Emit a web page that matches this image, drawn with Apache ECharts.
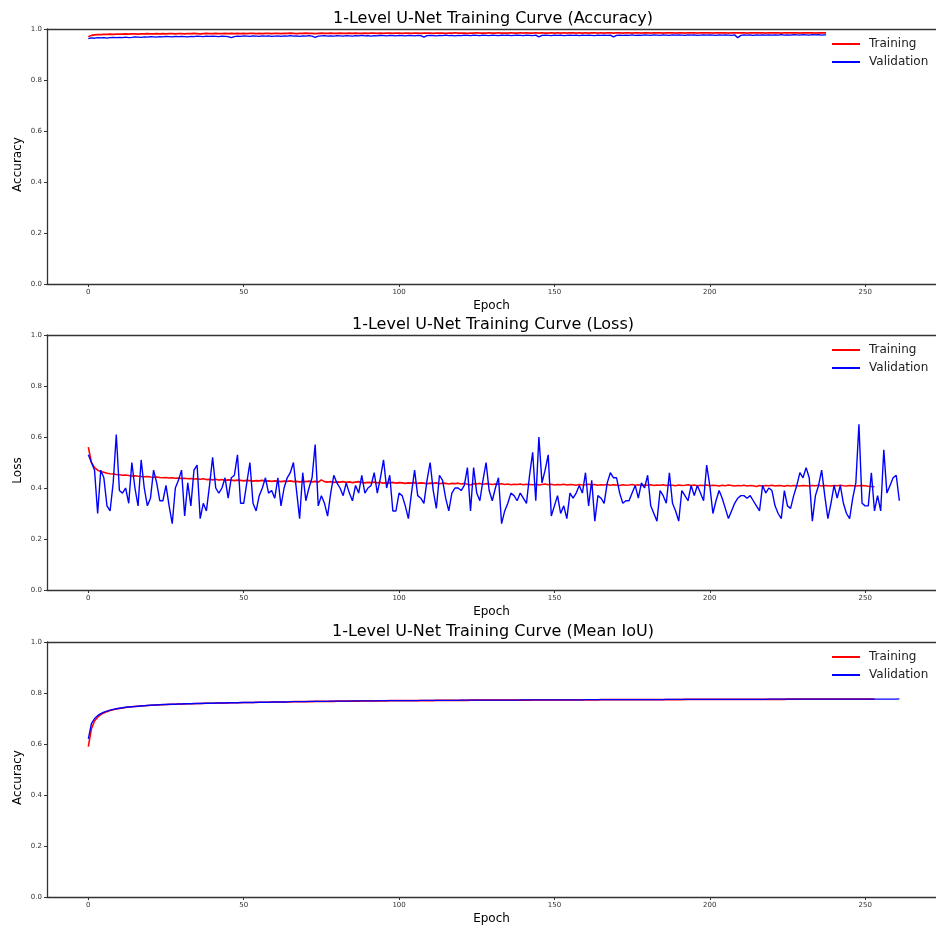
<!DOCTYPE html>
<html>
<head>
<meta charset="utf-8">
<script src="https://cdn.jsdelivr.net/npm/echarts@6/dist/echarts.min.js"></script>
<style>html,body{margin:0;padding:0;background:#fff}#c{width:936px;height:931px}</style>
</head>
<body>
<div id="c"></div>
<script>
const titles = ['1-Level U-Net Training Curve (Accuracy)', '1-Level U-Net Training Curve (Loss)', '1-Level U-Net Training Curve (Mean IoU)'];
const yNames = ['Accuracy', 'Loss', 'Accuracy'];
const epochTicks = [0, 50, 100, 150, 200, 250];
const seriesNames = ['Training', 'Validation'];

const trainAcc = [
0.970,0.975,0.977,0.978,0.978,0.979,0.979,0.980,0.979,0.980,
0.980,0.980,0.981,0.980,0.981,0.981,0.980,0.981,0.981,0.982,
0.981,0.981,0.982,0.981,0.982,0.981,0.982,0.982,0.981,0.982,
0.982,0.981,0.982,0.982,0.983,0.982,0.981,0.982,0.983,0.982,
0.982,0.983,0.982,0.982,0.983,0.982,0.983,0.982,0.983,0.982,
0.983,0.982,0.983,0.983,0.982,0.983,0.982,0.983,0.983,0.982,
0.983,0.983,0.982,0.983,0.983,0.984,0.983,0.982,0.983,0.983,
0.984,0.983,0.983,0.982,0.983,0.984,0.983,0.983,0.984,0.983,
0.983,0.984,0.983,0.983,0.984,0.983,0.984,0.983,0.983,0.984,
0.983,0.984,0.984,0.983,0.984,0.983,0.984,0.984,0.983,0.984,
0.984,0.983,0.984,0.984,0.983,0.984,0.984,0.983,0.984,0.984,
0.984,0.983,0.984,0.984,0.984,0.983,0.984,0.984,0.985,0.984,
0.984,0.984,0.983,0.984,0.984,0.985,0.984,0.984,0.984,0.985,
0.984,0.984,0.985,0.984,0.984,0.984,0.985,0.984,0.984,0.985,
0.984,0.985,0.984,0.984,0.985,0.984,0.985,0.984,0.984,0.985,
0.984,0.985,0.984,0.985,0.984,0.985,0.985,0.984,0.985,0.984,
0.985,0.984,0.985,0.985,0.984,0.985,0.984,0.985,0.985,0.984,
0.985,0.985,0.984,0.985,0.985,0.984,0.985,0.985,0.984,0.985,
0.985,0.984,0.985,0.985,0.985,0.984,0.985,0.985,0.985,0.984,
0.985,0.985,0.984,0.985,0.985,0.985,0.984,0.985,0.985,0.985,
0.985,0.984,0.985,0.985,0.985,0.985,0.984,0.985,0.985,0.985,
0.985,0.985,0.984,0.985,0.985,0.985,0.985,0.985,0.984,0.985,
0.985,0.985,0.985,0.984,0.985,0.985,0.985,0.985,0.985,0.984,
0.985,0.985,0.985,0.985,0.984,0.985,0.985,0.985,0.985,0.985,
0.984,0.985,0.985,0.985,0.985,0.985,0.985,0.984,0.985,0.985,
0.985,0.985,0.985,0.985
];

const valAcc = [
0.962,0.965,0.964,0.966,0.965,0.966,0.964,0.966,0.967,0.966,
0.967,0.966,0.968,0.966,0.967,0.969,0.968,0.967,0.969,0.968,
0.970,0.969,0.968,0.970,0.969,0.971,0.970,0.969,0.971,0.970,
0.971,0.970,0.969,0.971,0.970,0.972,0.971,0.970,0.972,0.971,
0.972,0.971,0.970,0.972,0.971,0.970,0.966,0.970,0.972,0.971,
0.973,0.972,0.971,0.973,0.972,0.971,0.973,0.972,0.973,0.971,
0.972,0.973,0.971,0.973,0.972,0.974,0.972,0.973,0.971,0.973,
0.972,0.974,0.972,0.967,0.972,0.973,0.974,0.972,0.973,0.972,
0.974,0.973,0.972,0.974,0.973,0.972,0.974,0.973,0.975,0.973,
0.974,0.972,0.974,0.973,0.975,0.974,0.973,0.975,0.974,0.973,
0.975,0.974,0.973,0.975,0.974,0.973,0.975,0.974,0.968,0.974,
0.975,0.974,0.973,0.975,0.974,0.976,0.974,0.975,0.973,0.975,
0.974,0.976,0.975,0.974,0.976,0.975,0.974,0.976,0.975,0.974,
0.976,0.975,0.974,0.976,0.975,0.976,0.974,0.975,0.976,0.975,
0.974,0.976,0.975,0.974,0.976,0.969,0.975,0.976,0.975,0.974,
0.976,0.975,0.976,0.974,0.975,0.976,0.975,0.976,0.974,0.976,
0.975,0.976,0.975,0.974,0.976,0.975,0.976,0.975,0.976,0.969,
0.975,0.976,0.975,0.976,0.975,0.977,0.975,0.976,0.975,0.977,
0.976,0.975,0.977,0.976,0.975,0.977,0.976,0.975,0.977,0.976,
0.977,0.976,0.975,0.977,0.976,0.977,0.975,0.976,0.977,0.976,
0.977,0.976,0.975,0.977,0.976,0.977,0.976,0.975,0.977,0.966,
0.975,0.977,0.976,0.977,0.975,0.977,0.976,0.977,0.976,0.977,
0.976,0.977,0.976,0.978,0.976,0.977,0.976,0.978,0.977,0.976,
0.978,0.977,0.976,0.978,0.977,0.978,0.976,0.977,0.978,0.977,
0.978,0.977,0.978,0.976,0.978,0.977,0.978,0.977,0.976,0.978,
0.977,0.978,0.977,0.978,0.977,0.978,0.977,0.978,0.977,0.978,
0.977,0.978
];

const trainLoss = [
0.560,0.500,0.480,0.470,0.465,0.462,0.458,0.456,0.455,0.453,
0.452,0.450,0.451,0.449,0.447,0.448,0.446,0.445,0.444,0.445,
0.443,0.442,0.443,0.441,0.440,0.441,0.439,0.440,0.438,0.439,
0.437,0.438,0.436,0.437,0.435,0.436,0.434,0.436,0.433,0.434,
0.432,0.434,0.431,0.433,0.430,0.432,0.431,0.429,0.431,0.430,
0.428,0.430,0.429,0.427,0.429,0.428,0.430,0.427,0.428,0.426,
0.428,0.427,0.425,0.427,0.426,0.428,0.425,0.426,0.424,0.426,
0.425,0.427,0.424,0.426,0.423,0.432,0.425,0.423,0.425,0.422,
0.424,0.423,0.425,0.422,0.424,0.421,0.423,0.425,0.422,0.420,
0.422,0.421,0.423,0.420,0.422,0.419,0.421,0.420,0.422,0.419,
0.421,0.420,0.418,0.420,0.419,0.421,0.418,0.420,0.419,0.417,
0.419,0.418,0.420,0.417,0.419,0.418,0.416,0.418,0.417,0.419,
0.416,0.418,0.415,0.412,0.417,0.416,0.418,0.415,0.417,0.416,
0.414,0.416,0.415,0.417,0.414,0.416,0.413,0.415,0.414,0.416,
0.413,0.415,0.414,0.413,0.415,0.412,0.414,0.416,0.413,0.415,
0.412,0.414,0.413,0.415,0.412,0.414,0.413,0.411,0.414,0.412,
0.413,0.415,0.412,0.414,0.411,0.413,0.412,0.414,0.411,0.413,
0.412,0.410,0.413,0.411,0.412,0.414,0.411,0.413,0.410,0.412,
0.411,0.413,0.410,0.412,0.411,0.413,0.410,0.412,0.411,0.409,
0.412,0.410,0.411,0.413,0.410,0.412,0.409,0.411,0.410,0.412,
0.409,0.411,0.410,0.408,0.411,0.409,0.412,0.410,0.408,0.410,
0.409,0.411,0.408,0.410,0.409,0.406,0.410,0.408,0.410,0.409,
0.411,0.408,0.410,0.409,0.407,0.410,0.408,0.410,0.409,0.408,
0.410,0.409,0.408,0.410,0.409,0.411,0.408,0.410,0.409,0.408,
0.410,0.409,0.411,0.409,0.408,0.410,0.409,0.408,0.409,0.410,
0.409,0.407,0.406,0.405
];

const valLoss = [
0.53,0.50,0.47,0.30,0.47,0.44,0.33,0.31,0.42,0.61,
0.39,0.38,0.40,0.34,0.50,0.40,0.33,0.51,0.40,0.33,
0.36,0.47,0.42,0.35,0.35,0.41,0.33,0.26,0.40,0.43,
0.47,0.29,0.42,0.33,0.47,0.49,0.28,0.34,0.31,0.41,
0.52,0.40,0.38,0.40,0.44,0.36,0.44,0.45,0.53,0.34,
0.34,0.42,0.50,0.34,0.31,0.37,0.40,0.44,0.38,0.39,
0.36,0.44,0.33,0.40,0.44,0.46,0.50,0.39,0.28,0.46,
0.35,0.40,0.44,0.57,0.33,0.37,0.34,0.29,0.38,0.45,
0.42,0.40,0.37,0.42,0.38,0.35,0.41,0.38,0.45,0.38,
0.40,0.41,0.46,0.38,0.44,0.51,0.40,0.45,0.31,0.31,
0.38,0.37,0.33,0.28,0.38,0.47,0.37,0.36,0.34,0.43,
0.50,0.39,0.32,0.45,0.43,0.36,0.31,0.38,0.40,0.40,
0.39,0.41,0.48,0.31,0.48,0.38,0.35,0.43,0.50,0.39,
0.35,0.40,0.44,0.26,0.31,0.34,0.38,0.37,0.35,0.38,
0.36,0.34,0.45,0.54,0.35,0.60,0.42,0.47,0.53,0.29,
0.33,0.37,0.30,0.33,0.28,0.38,0.36,0.38,0.41,0.38,
0.46,0.33,0.43,0.27,0.37,0.36,0.34,0.42,0.46,0.44,
0.44,0.38,0.34,0.35,0.35,0.38,0.41,0.36,0.42,0.40,
0.45,0.33,0.30,0.27,0.39,0.37,0.34,0.46,0.34,0.31,
0.27,0.39,0.37,0.35,0.41,0.37,0.41,0.38,0.35,0.49,
0.41,0.30,0.35,0.39,0.36,0.32,0.28,0.31,0.34,0.36,
0.37,0.37,0.36,0.37,0.35,0.33,0.31,0.41,0.38,0.40,
0.39,0.33,0.30,0.28,0.39,0.33,0.32,0.37,0.41,0.46,
0.44,0.48,0.44,0.27,0.37,0.41,0.47,0.37,0.28,0.34,
0.41,0.36,0.41,0.34,0.30,0.28,0.36,0.42,0.65,0.34,
0.33,0.33,0.46,0.31,0.37,0.31,0.55,0.38,0.41,0.44,
0.45,0.35
];

const trainIoU = [
0.590,0.660,0.690,0.705,0.715,0.722,0.727,0.731,0.734,0.737,
0.739,0.741,0.743,0.745,0.746,0.747,0.748,0.749,0.750,0.751,
0.752,0.752,0.753,0.754,0.754,0.755,0.755,0.756,0.756,0.757,
0.757,0.757,0.758,0.758,0.758,0.759,0.759,0.759,0.760,0.760,
0.760,0.760,0.761,0.761,0.761,0.761,0.762,0.762,0.762,0.762,
0.763,0.763,0.763,0.763,0.763,0.764,0.764,0.764,0.764,0.764,
0.765,0.765,0.765,0.765,0.765,0.765,0.766,0.766,0.766,0.766,
0.766,0.766,0.766,0.767,0.767,0.767,0.767,0.767,0.767,0.767,
0.768,0.768,0.768,0.768,0.768,0.768,0.768,0.768,0.769,0.769,
0.769,0.769,0.769,0.769,0.769,0.769,0.769,0.770,0.770,0.770,
0.770,0.770,0.770,0.770,0.770,0.770,0.770,0.770,0.770,0.770,
0.770,0.770,0.771,0.771,0.771,0.771,0.771,0.771,0.771,0.771,
0.771,0.771,0.771,0.772,0.772,0.772,0.772,0.772,0.772,0.772,
0.772,0.772,0.772,0.772,0.772,0.772,0.772,0.772,0.772,0.772,
0.772,0.772,0.772,0.773,0.773,0.773,0.773,0.773,0.773,0.773,
0.773,0.773,0.773,0.773,0.773,0.773,0.773,0.773,0.773,0.773,
0.773,0.773,0.773,0.773,0.773,0.774,0.774,0.774,0.774,0.774,
0.774,0.774,0.774,0.774,0.774,0.774,0.774,0.774,0.774,0.774,
0.774,0.774,0.774,0.774,0.774,0.774,0.774,0.774,0.774,0.774,
0.774,0.774,0.775,0.775,0.775,0.775,0.775,0.775,0.775,0.775,
0.775,0.775,0.775,0.775,0.775,0.775,0.775,0.775,0.775,0.775,
0.775,0.775,0.775,0.775,0.775,0.775,0.775,0.775,0.775,0.775,
0.775,0.775,0.775,0.775,0.775,0.776,0.776,0.776,0.776,0.776,
0.776,0.776,0.776,0.776,0.776,0.776,0.776,0.776,0.776,0.776,
0.776,0.776,0.776,0.776,0.776,0.776,0.776,0.776,0.776,0.776,
0.776,0.776,0.776,0.776
];

const valIoU = [
0.620,0.680,0.700,0.711,0.719,0.725,0.729,0.733,0.736,0.738,
0.740,0.742,0.744,0.745,0.746,0.747,0.748,0.749,0.750,0.751,
0.752,0.753,0.753,0.754,0.755,0.755,0.756,0.756,0.756,0.757,
0.757,0.758,0.758,0.758,0.759,0.759,0.759,0.760,0.760,0.760,
0.760,0.761,0.761,0.761,0.761,0.762,0.762,0.762,0.762,0.763,
0.763,0.763,0.763,0.763,0.764,0.764,0.764,0.764,0.764,0.765,
0.765,0.765,0.765,0.765,0.765,0.766,0.766,0.766,0.766,0.766,
0.766,0.767,0.767,0.767,0.767,0.767,0.767,0.767,0.768,0.768,
0.768,0.768,0.768,0.768,0.768,0.769,0.769,0.769,0.769,0.769,
0.769,0.769,0.769,0.769,0.770,0.770,0.770,0.770,0.770,0.770,
0.770,0.770,0.770,0.770,0.770,0.770,0.770,0.771,0.771,0.771,
0.771,0.771,0.771,0.771,0.771,0.771,0.771,0.771,0.771,0.771,
0.772,0.772,0.772,0.772,0.772,0.772,0.772,0.772,0.772,0.772,
0.772,0.772,0.772,0.772,0.772,0.772,0.772,0.772,0.772,0.773,
0.773,0.773,0.773,0.773,0.773,0.773,0.773,0.773,0.773,0.773,
0.773,0.773,0.773,0.773,0.773,0.773,0.773,0.773,0.773,0.773,
0.774,0.774,0.774,0.774,0.774,0.774,0.774,0.774,0.774,0.774,
0.774,0.774,0.774,0.774,0.774,0.774,0.774,0.774,0.774,0.774,
0.774,0.774,0.774,0.774,0.774,0.774,0.775,0.775,0.775,0.775,
0.775,0.775,0.775,0.775,0.775,0.775,0.775,0.775,0.775,0.775,
0.775,0.775,0.775,0.775,0.775,0.775,0.775,0.775,0.775,0.775,
0.775,0.775,0.775,0.775,0.775,0.775,0.775,0.775,0.775,0.776,
0.776,0.776,0.776,0.776,0.776,0.776,0.776,0.776,0.776,0.776,
0.776,0.776,0.776,0.776,0.776,0.776,0.776,0.776,0.776,0.776,
0.776,0.776,0.776,0.776,0.776,0.776,0.776,0.776,0.776,0.776,
0.776,0.776,0.776,0.776,0.776,0.776,0.776,0.776,0.776,0.776,
0.776,0.777
];

const panels = [[trainAcc, valAcc], [trainLoss, valLoss], [trainIoU, valIoU]];

const FONT = 'DejaVu Sans';
const gridTops = [29, 335, 642];
const gridH = 255;
const gridLeft = 47;
const xMin = -13.3, xMax = 272.8;
const spine = { show: true, onZero: false, lineStyle: { color: '#333', width: 1.3 } };

const option = {
  animation: false,
  backgroundColor: '#fff',
  title: [], grid: [], xAxis: [], yAxis: [], legend: [], series: []
};

panels.forEach((pair, i) => {
  const top = gridTops[i];
  option.title.push({
    text: titles[i], left: 493, top: top - 18, textAlign: 'center', padding: 0,
    textStyle: { fontFamily: FONT, fontSize: 16, fontWeight: 'normal', color: '#000' }
  });
  option.grid.push({ left: gridLeft, right: 0, top: top, height: gridH });
  option.xAxis.push({
    type: 'value', gridIndex: i, min: xMin, max: xMax,
    name: 'Epoch', nameLocation: 'middle', nameGap: 16,
    nameTextStyle: { fontFamily: FONT, fontSize: 12, color: '#000' },
    axisLine: spine,
    axisTick: { show: true, length: 3, customValues: epochTicks, lineStyle: { color: '#333' } },
    axisLabel: { customValues: epochTicks, margin: 5, fontFamily: FONT, fontSize: 7, color: '#333' },
    splitLine: { show: false }
  });
  option.xAxis.push({
    type: 'value', gridIndex: i, position: 'top', min: xMin, max: xMax,
    axisLine: spine, axisTick: { show: false }, axisLabel: { show: false }, splitLine: { show: false }
  });
  option.yAxis.push({
    type: 'value', gridIndex: i, min: 0, max: 1, interval: 0.2,
    name: yNames[i], nameLocation: 'middle', nameGap: 23, nameRotate: 90, nameMoveOverlap: false,
    nameTextStyle: { fontFamily: FONT, fontSize: 12, color: '#000', padding: [0, 16, 0, 0] },
    axisLine: spine,
    axisTick: { show: true, length: 3, lineStyle: { color: '#333' } },
    axisLabel: { margin: 5, fontFamily: FONT, fontSize: 7, color: '#333', formatter: v => v.toFixed(1) },
    splitLine: { show: false }
  });
  option.legend.push({
    data: seriesNames, orient: 'vertical', left: 826, top: top + 2,
    backgroundColor: '#fff', padding: [7, 10, 6, 6], itemGap: 6,
    icon: 'rect', itemWidth: 28, itemHeight: 2,
    textStyle: { fontFamily: FONT, fontSize: 12, color: '#222', padding: [0, 0, 0, 4] }
  });
  ['#ff0000', '#0000ff'].forEach((col, k) => {
    option.series.push({
      name: seriesNames[k], type: 'line', xAxisIndex: i * 2, yAxisIndex: i,
      data: pair[k].map((v, j) => [j, v]),
      showSymbol: false, symbol: 'none', clip: true,
      itemStyle: { color: col },
      lineStyle: { color: col, width: k === 0 ? 1.6 : 1.4 },
      emphasis: { disabled: true }
    });
  });
});

const chart = echarts.init(document.getElementById('c'), null, { renderer: 'canvas' });
chart.setOption(option);
</script>
</body>
</html>
